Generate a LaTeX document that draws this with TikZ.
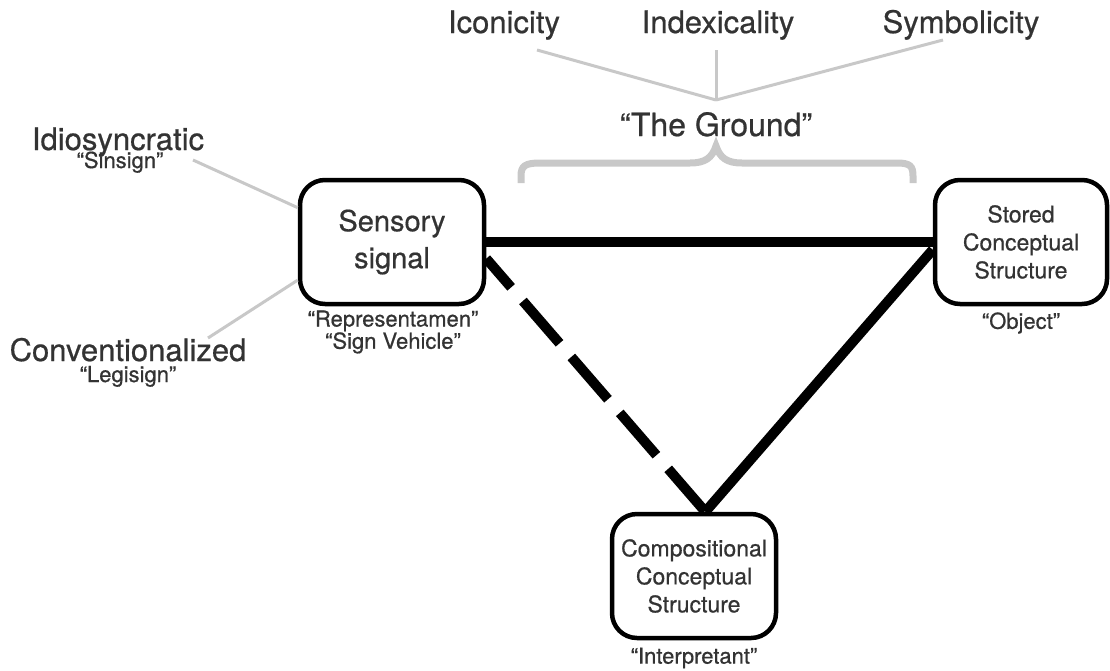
\documentclass[tikz,border=0pt]{standalone}
\usepackage{fontspec}
\setmainfont{TeX Gyre Heros}[FakeBold=0.6]
\usetikzlibrary{positioning}

\definecolor{inkgray}{HTML}{333333}
\definecolor{lightgray}{HTML}{C8C8C8}

\tikzset{
  box/.style={draw=black,line width=4.5pt,rounded corners=25pt,align=center,text=inkgray,inner sep=0pt,minimum height=124pt},
  sub/.style={text=inkgray,align=center,inner sep=0pt,font=\fontsize{22}{20}\selectfont},
  big/.style={text=inkgray,inner sep=0pt,anchor=base,font=\fontsize{31}{31}\selectfont},
  small/.style={text=inkgray,inner sep=0pt,anchor=base,font=\fontsize{22}{22}\selectfont},
  thinline/.style={draw=lightgray,line width=3pt},
  link/.style={line width=10pt}
}

\begin{document}
\begin{tikzpicture}[x=1pt,y=-1pt]
\useasboundingbox (0,0) rectangle (1110,670);

% the three corners
\node[box,minimum width=184pt,font=\fontsize{29}{37}\selectfont] (sensory) at (392,242) {Sensory\\signal};
\node[box,minimum width=172pt,font=\fontsize{23}{28}\selectfont] (stored) at (1021,242) {Stored\\Conceptual\\Structure};
\node[box,minimum width=164pt,font=\fontsize{23}{28}\selectfont] (comp) at (694,576) {Compositional\\Conceptual\\Structure};

\node[sub] (repr) at (393,332) {“Representamen”\\“Sign Vehicle”};
\node[sub] (obj) at (1021,323) {“Object”};
\node[sub] (interp) at (694,658) {“Interpretant”};

% triangle
\draw[link] (sensory) -- (stored);
\draw[link] (stored.185) -- (comp.80);
\draw[link,dash pattern=on 56pt off 18pt,dash phase=18pt] (sensory.-10) -- (comp.80);

% ground
\node[big] (iconic) at (504,33) {Iconicity};
\node[big] (index) at (718,33) {Indexicality};
\node[big] (symbol) at (961,33) {Symbolicity};
\node[big,font=\fontsize{32}{32}\selectfont] (ground) at (716,136) {“The Ground”};
\coordinate (hub) at (716,100);
\coordinate (iconicend) at (537,50);
\coordinate (indexend) at (716,50);
\coordinate (symbolend) at (943,40);
\draw[thinline] (iconicend) -- (hub);
\draw[thinline] (indexend) -- (hub);
\draw[thinline] (symbolend) -- (hub);

\draw[lightgray,line width=7pt] (521,183) -- (521,176) .. controls (521,166) and (525,163) .. (540,163)
  -- (690,163) .. controls (705,163) and (712,158) .. (716,146)
  .. controls (720,158) and (727,163) .. (742,163) -- (897,163)
  .. controls (910,163) and (913,166) .. (913,176) -- (913,183);

% sign types
\node[big] (idio) at (118,150) {Idiosyncratic};
\node[small] (sinsign) at (120,168) {“Sinsign”};
\node[big] (conv) at (128,361) {Conventionalized};
\node[small] (legisign) at (128,382) {“Legisign”};
\coordinate (idioend) at (193,160);
\coordinate (convend) at (208,338);
\draw[thinline] (idioend) -- (sensory.160);
\draw[thinline] (convend) -- (sensory.202);
\end{tikzpicture}
\end{document}
